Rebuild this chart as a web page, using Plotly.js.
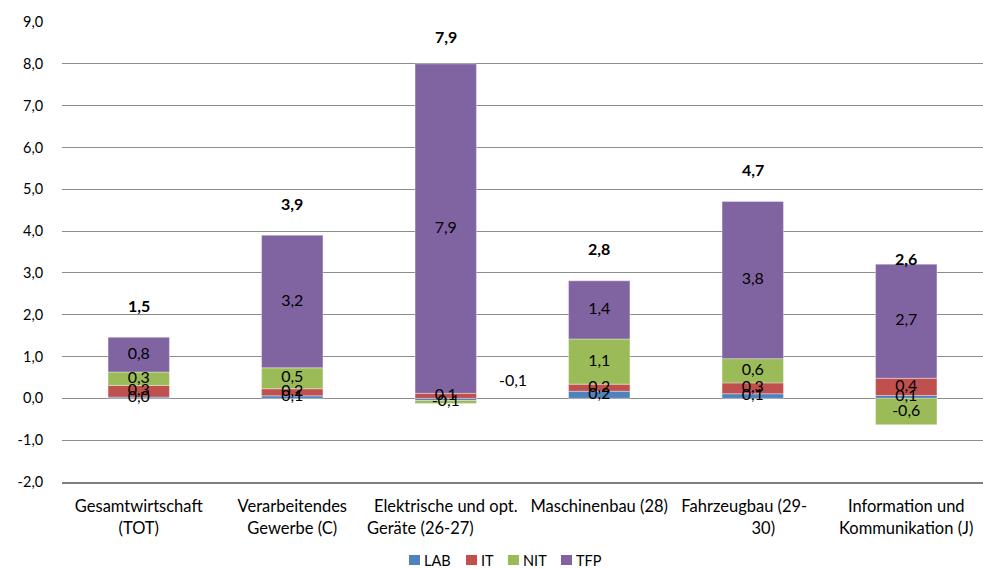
<!DOCTYPE html>
<html>
<head>
<meta charset="utf-8">
<script src="https://cdn.plot.ly/plotly-3.0.1.min.js"></script>
<style>html,body{margin:0;padding:0;background:#fff;}#chart{width:983px;height:569px;}</style>
</head>
<body>
<div id="chart"></div>
<script>
// ---- data ----
var categories = [
  "Gesamtwirtschaft<br>(TOT)",
  "Verarbeitendes<br>Gewerbe (C)",
  "Elektrische und opt.<br>Geräte (26-27)\u00a0\u00a0\u00a0\u00a0\u00a0\u00a0\u00a0\u00a0\u00a0\u00a0\u00a0\u00a0",
  "Maschinenbau (28)",
  "Fahrzeugbau (29-\u00a0\u00a0\u00a0\u00a0<br>\u00a0\u00a0\u00a0\u00a0\u00a030)",
  "Information und<br>Kommunikation (J)"
];
var seriesNames = ["LAB", "IT", "NIT", "TFP"];
var LAB = [0.03, 0.06, -0.05, 0.17, 0.11, 0.07];
var IT  = [0.28, 0.17, 0.12, 0.17, 0.26, 0.41];
var NIT = [0.32, 0.50, -0.07, 1.08, 0.58, -0.63];
var TFP = [0.83, 3.17, 7.88, 1.39, 3.76, 2.73];
var yTickVals = [-2, -1, 0, 1, 2, 3, 4, 5, 6, 7, 8, 9];

// ---- styles ----
var colors = ["#4f81bd", "#c0504d", "#9bbb59", "#8064a2"];
var FONT = "Lato, 'Open Sans', sans-serif";
function fmt(v) { return v.toFixed(1).replace('.', ','); }

var W = 983, H = 569, ML = 62, MR = 0, MT = 22, MB = 87;
var PW = W - ML - MR, PH = H - MT - MB;
function px2x(px) { return (px - ML) / PW; }
function py2y(py) { return (H - MB - py) / PH; }

var series = [LAB, IT, NIT, TFP];

var traces = [];
series.forEach(function (vals, s) {
  traces.push({
    type: 'bar', name: seriesNames[s], x: categories, y: vals,
    marker: { color: colors[s], line: { color: 'rgba(255,255,255,0.35)', width: 1 } },
    hoverinfo: 'skip', showlegend: false
  });
});

// segment mid positions for labels (relative stacking)
var posBase = categories.map(function () { return 0; });
var negBase = categories.map(function () { return 0; });
var mids = series.map(function () { return []; });
series.forEach(function (vals, s) {
  vals.forEach(function (v, i) {
    if (v >= 0) { mids[s][i] = posBase[i] + v / 2; posBase[i] += v; }
    else { mids[s][i] = negBase[i] + v / 2; negBase[i] += v; }
  });
});

var annotations = [];
var shapes = [];
series.forEach(function (vals, s) {
  var txt = vals.map(function (v, i) {
    if (s === 0 && i === 2) return ''; // displaced label, drawn as annotation
    return fmt(v);
  });
  traces.push({
    type: 'scatter', mode: 'text', x: categories, y: mids[s], text: txt,
    textposition: 'middle center', textfont: { family: FONT, size: 16, color: '#000' },
    showlegend: false, hoverinfo: 'skip', cliponaxis: false
  });
});

// displaced label of LAB for Elektrische
annotations.push({
  x: 2.44, y: 0.46, xref: 'x', yref: 'y', text: fmt(LAB[2]), showarrow: false,
  font: { family: FONT, size: 16, color: '#000' }
});

// totals
categories.forEach(function (c, i) {
  var tot = LAB[i] + IT[i] + NIT[i] + TFP[i];
  annotations.push({
    x: c, y: tot, xref: 'x', yref: 'y', text: '<b>' + fmt(tot) + '</b>',
    showarrow: false, yanchor: 'middle', yshift: 32,
    font: { family: FONT, size: 16, color: '#000' }
  });
});

// custom compact legend
var legSquareLeft = [409, 466, 508, 561];
var legTop = 555, legSq = 11, legSqH = 10;
seriesNames.forEach(function (n, s) {
  var l = legSquareLeft[s];
  shapes.push({
    type: 'rect', xref: 'paper', yref: 'paper',
    x0: px2x(l), x1: px2x(l + legSq), y0: py2y(legTop + legSqH), y1: py2y(legTop),
    fillcolor: colors[s], line: { width: 0 }
  });
  annotations.push({
    xref: 'paper', yref: 'paper', x: px2x(l + legSq + 3), y: py2y(legTop + legSqH / 2),
    xanchor: 'left', yanchor: 'middle', showarrow: false, text: n, borderpad: 0,
    font: { family: FONT, size: 14.5, color: '#000' }
  });
});

var layout = {
  width: W, height: H,
  margin: { l: ML, r: MR, t: MT, b: MB },
  paper_bgcolor: '#fff', plot_bgcolor: '#fff',
  barmode: 'relative', bargap: 0.6,
  font: { family: FONT, size: 14, color: '#000' },
  showlegend: false,
  xaxis: {
    type: 'category', showgrid: false, zeroline: false,
    showline: true, linecolor: '#7f7f7f', linewidth: 1.5,
    ticks: 'outside', ticklen: 9, tickcolor: 'rgba(0,0,0,0)',
    tickfont: { family: FONT, size: 16.5, color: '#000' },
    fixedrange: true
  },
  yaxis: {
    range: [-2, 9], tickvals: yTickVals, ticktext: yTickVals.map(fmt),
    showgrid: true, gridcolor: '#8c8c8c', gridwidth: 1,
    zeroline: true, zerolinecolor: '#8c8c8c', zerolinewidth: 1,
    showline: false,
    ticks: 'outside', ticklen: 15, tickcolor: 'rgba(0,0,0,0)',
    tickfont: { family: FONT, size: 14.5, color: '#000' },
    fixedrange: true
  },
  shapes: shapes,
  annotations: annotations
};

Plotly.newPlot('chart', traces, layout, { displayModeBar: false, staticPlot: true });
</script>
</body>
</html>
